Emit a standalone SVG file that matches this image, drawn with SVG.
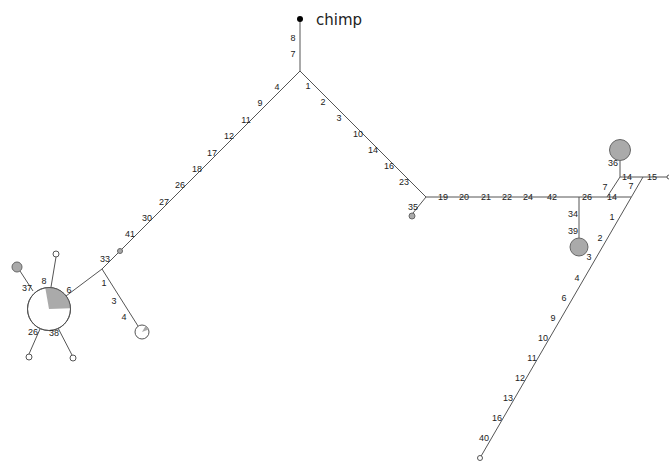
<svg xmlns="http://www.w3.org/2000/svg" width="669" height="461" viewBox="0 0 669 461">
<style>
.e{stroke:#555;stroke-width:1;fill:none}
.l{font-family:"Liberation Sans",Arial,sans-serif;font-size:9px;fill:#222;text-anchor:middle;dominant-baseline:central}
.n{fill:#fff;stroke:#555;stroke-width:1}
.g{fill:#aaa;stroke:#666;stroke-width:1}
</style>
<rect width="669" height="461" fill="#fff"/>
<g id="connectors">
<line class="e" x1="300" y1="19" x2="300" y2="71"/>
<line class="e" x1="300" y1="71" x2="102" y2="269"/>
<line class="e" x1="300" y1="71" x2="426" y2="197"/>
<line class="e" x1="426" y1="197" x2="631" y2="197"/>
<line class="e" x1="426" y1="197" x2="413" y2="213"/>
<line class="e" x1="579" y1="197" x2="579" y2="238"/>
<line class="e" x1="620" y1="177" x2="607" y2="197"/>
<line class="e" x1="620" y1="161" x2="620" y2="177"/>
<line class="e" x1="620" y1="177" x2="669" y2="177"/>
<line class="e" x1="643" y1="177" x2="480" y2="458"/>
<line class="e" x1="102" y1="269" x2="138" y2="326"/>
<line class="e" x1="66" y1="296" x2="102" y2="269"/>
<line class="e" x1="51" y1="287" x2="56" y2="257"/>
<line class="e" x1="33" y1="291" x2="20" y2="271"/>
<line class="e" x1="40" y1="329" x2="29" y2="354"/>
<line class="e" x1="58" y1="328" x2="72" y2="355"/>
</g>
<g id="chimp">
<circle cx="300" cy="19" r="3" fill="#000"/>
<text x="316" y="25" font-family="DejaVu Sans,sans-serif" font-size="15" fill="#222">chimp</text>
</g>
<g id="n-left-mid"><circle class="g" cx="120" cy="251" r="2.5"/></g>
<g id="n-big">
<circle class="n" cx="49" cy="309" r="21.5"/>
<path d="M49,309 L45.27,287.83 A21.5,21.5 0 0 1 70.49,308.25 Z" fill="#aaa"/>
<circle cx="49" cy="309" r="21.5" fill="none" stroke="#555"/>
</g>
<g id="n-8"><circle class="n" cx="56" cy="254" r="3"/></g>
<g id="n-37"><circle class="g" cx="17" cy="267" r="5"/></g>
<g id="n-26"><circle class="n" cx="29" cy="357" r="3"/></g>
<g id="n-38"><circle class="n" cx="73" cy="358" r="3"/></g>
<g id="n-4">
<circle class="n" cx="142" cy="332" r="7"/>
<path d="M142,332 L145.5,325.9 A7,7 0 0 1 148.6,329.6 Z" fill="#aaa"/>
</g>
<g id="n-35"><circle class="g" cx="412" cy="216" r="3"/></g>
<g id="n-39"><circle class="g" cx="579" cy="247" r="9"/></g>
<g id="n-36"><circle class="g" cx="620" cy="150" r="10.5"/></g>
<g id="n-15"><circle class="n" cx="669" cy="177" r="2"/></g>
<g id="n-40"><circle class="n" cx="480" cy="458" r="2.5"/></g>
<g id="labels">
<text class="l" x="293" y="38">8</text>
<text class="l" x="293" y="54">7</text>
<text class="l" x="277" y="87">4</text>
<text class="l" x="260" y="103">9</text>
<text class="l" x="246" y="120">11</text>
<text class="l" x="229" y="136">12</text>
<text class="l" x="212" y="153">17</text>
<text class="l" x="197" y="169">18</text>
<text class="l" x="180" y="185">26</text>
<text class="l" x="164" y="202">27</text>
<text class="l" x="147" y="218">30</text>
<text class="l" x="130" y="234">41</text>
<text class="l" x="105" y="259">33</text>
<text class="l" x="104" y="283">1</text>
<text class="l" x="114" y="301">3</text>
<text class="l" x="124" y="317">4</text>
<text class="l" x="69" y="290">6</text>
<text class="l" x="44" y="281">8</text>
<text class="l" x="27" y="288">37</text>
<text class="l" x="33" y="332">26</text>
<text class="l" x="54" y="333">38</text>
<text class="l" x="308" y="86">1</text>
<text class="l" x="323" y="102">2</text>
<text class="l" x="339" y="118">3</text>
<text class="l" x="358" y="134">10</text>
<text class="l" x="373" y="150">14</text>
<text class="l" x="389" y="166">16</text>
<text class="l" x="404" y="182">23</text>
<text class="l" x="413" y="207">35</text>
<text class="l" x="443" y="197">19</text>
<text class="l" x="464" y="197">20</text>
<text class="l" x="486" y="197">21</text>
<text class="l" x="507" y="197">22</text>
<text class="l" x="528" y="197">24</text>
<text class="l" x="552" y="197">42</text>
<text class="l" x="587" y="197">26</text>
<text class="l" x="612" y="197">14</text>
<text class="l" x="573" y="214">34</text>
<text class="l" x="573" y="231">39</text>
<text class="l" x="613" y="163">36</text>
<text class="l" x="627" y="177">14</text>
<text class="l" x="652" y="177">15</text>
<text class="l" x="605" y="187">7</text>
<text class="l" x="631" y="186">7</text>
<text class="l" x="612" y="217">1</text>
<text class="l" x="600" y="238">2</text>
<text class="l" x="589" y="257">3</text>
<text class="l" x="577" y="278">4</text>
<text class="l" x="564" y="298">6</text>
<text class="l" x="553" y="318">9</text>
<text class="l" x="543" y="338">10</text>
<text class="l" x="532" y="358">11</text>
<text class="l" x="520" y="378">12</text>
<text class="l" x="508" y="398">13</text>
<text class="l" x="497" y="418">16</text>
<text class="l" x="484" y="438">40</text>
</g>
</svg>
